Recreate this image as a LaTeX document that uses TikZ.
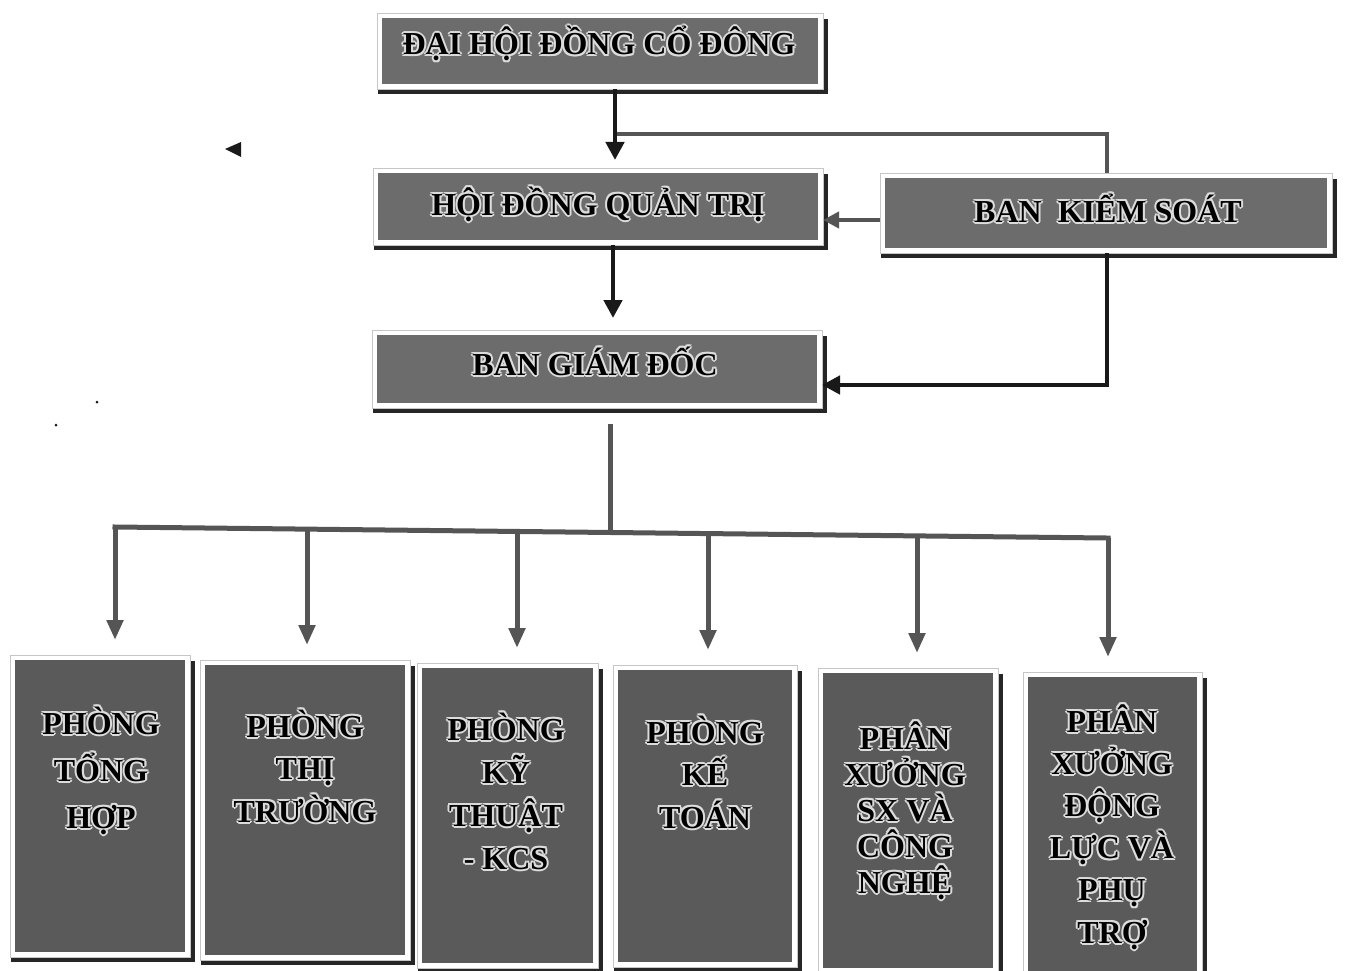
\documentclass[tikz,border=0pt]{standalone}
\usepackage{fontspec}
\setmainfont{Liberation Serif}
\usetikzlibrary{arrows.meta}
\definecolor{topfill}{RGB}{108,108,108}
\definecolor{botfill}{RGB}{90,90,90}
\definecolor{shadowc}{RGB}{38,38,38}
\definecolor{glow}{RGB}{220,220,220}
\definecolor{linegray}{RGB}{85,85,85}
\definecolor{darkline}{RGB}{25,25,25}

\newcommand\gcopy[3]{\rlap{\kern#1\raisebox{#2}{#3}}}
\newcommand\glowtxt[1]{{\color{glow}\gcopy{-2pt}{0pt}{#1}\gcopy{2pt}{0pt}{#1}\gcopy{0pt}{2pt}{#1}\gcopy{0pt}{-2pt}{#1}\gcopy{-1.4pt}{1.4pt}{#1}\gcopy{1.4pt}{1.4pt}{#1}\gcopy{-1.4pt}{-1.4pt}{#1}\gcopy{1.4pt}{-1.4pt}{#1}}#1}

\tikzset{
  frame/.style={draw=gray!45, line width=0.8pt, fill=white, inner sep=0pt, outer sep=0pt},
  shadowline/.style={draw=shadowc, line width=4pt},
  lbl/.style={anchor=base, inner sep=0pt, font=\bfseries\fontsize{32}{32}\selectfont, text=black},
  toparr/.style={draw=darkline, line width=4.5pt, -{Triangle[length=18pt,width=18pt]}},
  topline/.style={draw=linegray, line width=4.5pt},
  sidearr/.style={draw=linegray, line width=4.5pt, -{Triangle[length=16pt,width=16pt]}},
  botline/.style={draw=linegray, line width=5pt},
  botarr/.style={botline, -{Triangle[length=20pt,width=16pt]}},
}

% name, x1, y1, x2, y2 (inner fill), fill colour
\newcommand\orgbox[6]{%
  \node[frame, minimum width={#4-#2+10}, minimum height={#5-#3+10}] (#1) at ({(#2+#4)/2},{(#3+#5)/2}) {};
  \draw[shadowline] ([shift={(1,3)}]#1.south west) -- ([shift={(3,3)}]#1.south east) -- ([shift={(3,6)}]#1.north east);
  \fill[#6] (#2,#3) rectangle (#4,#5);
}
% name, x, first baseline, line step, lines
\newcommand\boxlines[5]{%
  \foreach \t [count=\i] in {#5} {
    \node[lbl] (#1-l\i) at (#2,{#3+(\i-1)*#4}) {\glowtxt{\t}};
  }%
}

\begin{document}
\begin{tikzpicture}[x=1pt,y=-1pt]
\useasboundingbox[fill=white] (0,0) rectangle (1346,971);

% top boxes
\orgbox{dh}{382}{18}{818}{84}{topfill}
\orgbox{hd}{378}{173}{818}{240}{topfill}
\orgbox{bks}{885}{178}{1327}{248}{topfill}
\orgbox{bgd}{377}{335}{817}{403}{topfill}

\node[lbl] (dh-t) at (599,55) {\glowtxt{ĐẠI HỘI ĐỒNG CỔ ĐÔNG}};
\node[lbl] (hd-t) at (598,215) {\glowtxt{HỘI ĐỒNG QUẢN TRỊ}};
\node[lbl] (bks-t) at (1108,222) {\glowtxt{BAN~~KIỂM SOÁT}};
\node[lbl] (bgd-t) at (595,375) {\glowtxt{BAN GIÁM ĐỐC}};

% bottom boxes
\orgbox{p1}{15}{660}{185}{952}{botfill}
\orgbox{p2}{205}{665}{405}{955}{botfill}
\orgbox{p3}{422}{668}{593}{963}{botfill}
\orgbox{p4}{618}{670}{792}{962}{botfill}
\orgbox{p5}{823}{673}{993}{968}{botfill}
\orgbox{p6}{1028}{677}{1197}{978}{botfill}

\boxlines{p1}{101}{734}{47}{PHÒNG, TỔNG, HỢP}
\boxlines{p2}{305}{737}{42.5}{PHÒNG, THỊ, TRƯỜNG}
\boxlines{p3}{506}{740}{43}{PHÒNG, KỸ, THUẬT, - KCS}
\boxlines{p4}{705}{743}{42.5}{PHÒNG, KẾ, TOÁN}
\boxlines{p5}{905}{749}{36}{PHÂN, XƯỞNG, SX VÀ, CÔNG, NGHỆ}
\boxlines{p6}{1112}{732}{42.2}{PHÂN, XƯỞNG, ĐỘNG, LỰC VÀ, PHỤ, TRỢ}

% top connectors
\coordinate (j1) at (615,134);
\coordinate (y220) at (0,220);
\coordinate (y385) at (0,385);
\draw[topline] (j1) -| ([xshift=1]bks.north);
\draw[toparr, shorten >=8pt] ([xshift=15]dh.south) -- ([xshift=15]dh.south |- hd.north);
\draw[sidearr] (bks.west |- y220) -- (hd.east |- y220);
\draw[toparr] ([xshift=1]bks.south) |- (bgd.east |- y385);
\draw[toparr, shorten >=12pt] ([xshift=15]hd.south) -- ([xshift=15]hd.south |- bgd.north);

% bottom distribution
\coordinate (b0) at (610,531.5);
\draw[botline, shorten <=16pt] ([xshift=13]bgd.south) -- (b0);
\foreach \n/\x in {p1/115, p2/307, p3/517, p4/708, p5/917, p6/1108} {
  \coordinate (d\n) at (\x,{527+(\x-115)*0.0111});
}
\draw[botline, line cap=rect] (dp1) -- (dp6);
\foreach \n in {p1,p2,p3,p4,p5,p6} {
  \draw[botarr, shorten >=15pt] (d\n) -- (d\n |- \n.north);
}

% stray marks
\fill[darkline] (225,149) -- (241,142) -- (241,157) -- cycle;
\fill[darkline] (97,402) circle (1.5);
\fill[darkline] (56,425) circle (1.5);
\end{tikzpicture}
\end{document}
